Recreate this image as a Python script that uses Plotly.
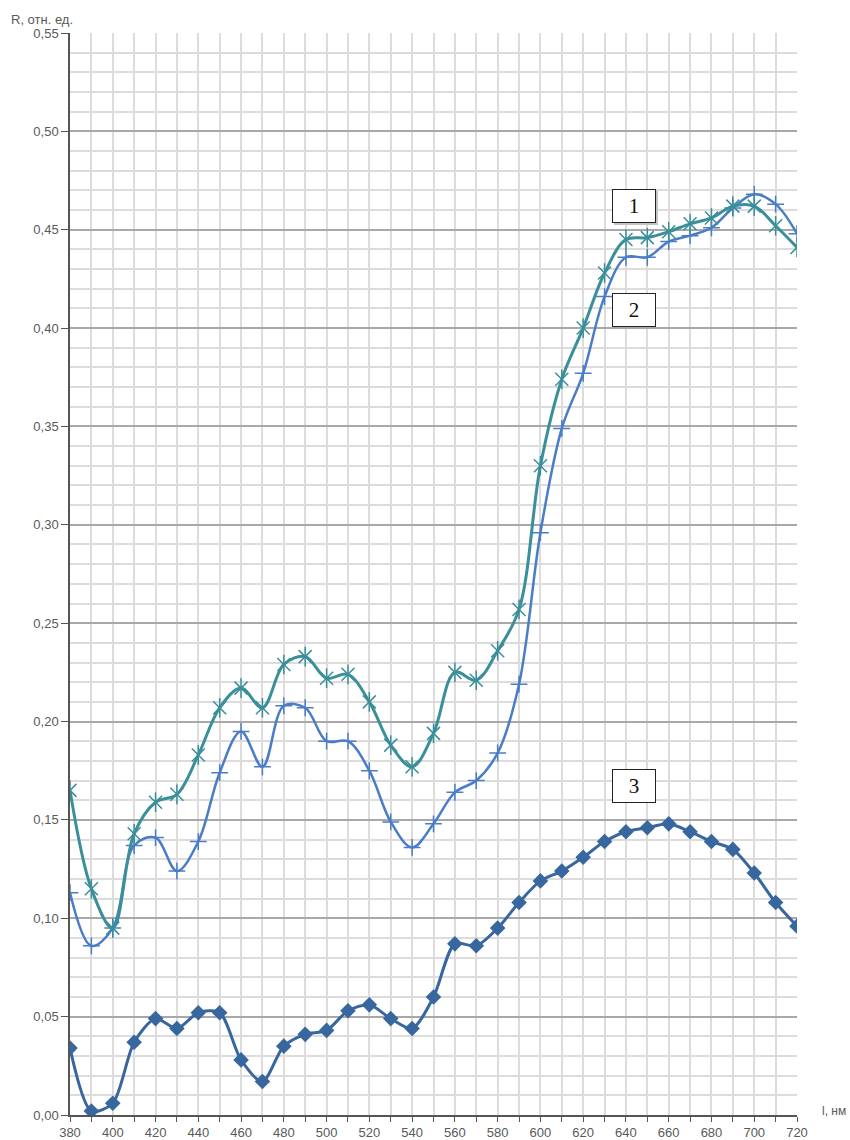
import plotly.graph_objects as go

# Wavelength grid, nm
wavelength = [380, 390, 400, 410, 420, 430, 440, 450, 460, 470, 480, 490, 500, 510,
              520, 530, 540, 550, 560, 570, 580, 590, 600, 610, 620, 630, 640, 650,
              660, 670, 680, 690, 700, 710, 720]

# Reflectance curves, rel. units
curve_1 = [0.165, 0.115, 0.095, 0.143, 0.159, 0.163, 0.183, 0.207, 0.217, 0.207,
           0.229, 0.233, 0.222, 0.224, 0.210, 0.188, 0.177, 0.194, 0.225, 0.221,
           0.236, 0.257, 0.330, 0.374, 0.400, 0.428, 0.445, 0.446, 0.449, 0.453,
           0.456, 0.462, 0.462, 0.452, 0.441]
curve_2 = [0.113, 0.086, 0.095, 0.137, 0.141, 0.124, 0.139, 0.174, 0.195, 0.177,
           0.208, 0.207, 0.190, 0.190, 0.175, 0.149, 0.136, 0.148, 0.164, 0.170,
           0.184, 0.219, 0.296, 0.349, 0.377, 0.416, 0.436, 0.436, 0.444, 0.447,
           0.451, 0.461, 0.468, 0.463, 0.448]
curve_3 = [0.034, 0.002, 0.006, 0.037, 0.049, 0.044, 0.052, 0.052, 0.028, 0.017,
           0.035, 0.041, 0.043, 0.053, 0.056, 0.049, 0.044, 0.060, 0.087, 0.086,
           0.095, 0.108, 0.119, 0.124, 0.131, 0.139, 0.144, 0.146, 0.148, 0.144,
           0.139, 0.135, 0.123, 0.108, 0.096]

x_ticks = [380, 400, 420, 440, 460, 480, 500, 520, 540, 560, 580, 600, 620, 640,
           660, 680, 700, 720]
y_ticks = [0.00, 0.05, 0.10, 0.15, 0.20, 0.25, 0.30, 0.35, 0.40, 0.45, 0.50, 0.55]

TEAL = "#3a8f9a"
BLUE = "#4a7cc7"
DARK = "#3867a0"

fig = go.Figure()

# curve 3 — diamonds
fig.add_trace(go.Scatter(
    x=wavelength, y=curve_3, mode="lines+markers",
    line=dict(color=DARK, width=3, shape="spline", smoothing=0.8),
    marker=dict(symbol="diamond", size=12, color=DARK),
))

# curve 2 — plus markers
fig.add_trace(go.Scatter(
    x=wavelength, y=curve_2, mode="lines+markers",
    line=dict(color=BLUE, width=2.5, shape="spline", smoothing=1.0),
    marker=dict(symbol="cross-thin-open", size=12, color=BLUE,
                line=dict(color=BLUE, width=1.5)),
))

# curve 1 — star markers (x plus vertical bar)
fig.add_trace(go.Scatter(
    x=wavelength, y=curve_1, mode="lines+markers",
    line=dict(color=TEAL, width=3, shape="spline", smoothing=1.0),
    marker=dict(symbol="x-thin-open", size=13, color=TEAL,
                line=dict(color=TEAL, width=1.5)),
))
fig.add_trace(go.Scatter(
    x=wavelength, y=curve_1, mode="markers",
    marker=dict(symbol="line-ns-open", size=14, color=TEAL,
                line=dict(color=TEAL, width=1.5)),
))

# numbered label boxes
L, R, T, B = 70, 53, 33, 25
W, H = 850, 1140
pw, ph = W - L - R, H - T - B


def px_x(p):
    return (p - L) / pw


def px_y(p):
    return (H - B - p) / ph


for text, yv, shadow in [("1", 0.462, True), ("2", 0.409, False), ("3", 0.167, False)]:
    if shadow:
        fig.add_annotation(x=644, y=yv, xref="x", yref="y", text=" ",
                           showarrow=False, width=40, height=30,
                           bgcolor="#c4c4c4", borderwidth=1, bordercolor="#c4c4c4",
                           xshift=2, yshift=-2)
    fig.add_annotation(x=644, y=yv, xref="x", yref="y", text=text, showarrow=False,
                       font=dict(family="Liberation Serif", size=21, color="#111111"),
                       width=40, height=30, bgcolor="white",
                       bordercolor="#222222", borderwidth=1)

# axis titles
fig.add_annotation(x=px_x(9), y=px_y(19), xref="paper", yref="paper",
                   text="R, отн. ед.", showarrow=False, xanchor="left", yanchor="middle",
                   font=dict(family="Liberation Sans", size=13, color="#595959"))
fig.add_annotation(x=px_x(820), y=px_y(1111), xref="paper", yref="paper",
                   text="l, нм", showarrow=False, xanchor="left", yanchor="middle",
                   font=dict(family="Liberation Sans", size=12, color="#595959"))

fig.update_layout(
    width=W, height=H,
    margin=dict(l=L, r=R, t=T, b=B, autoexpand=False),
    paper_bgcolor="white", plot_bgcolor="white",
    showlegend=False,
    separators=", ",
    font=dict(family="Liberation Sans", size=13, color="#595959"),
    xaxis=dict(
        range=[380, 720], tickvals=x_ticks, ticktext=[str(v) for v in x_ticks],
        automargin=False,
        showgrid=True, gridcolor="#dcdcdc", gridwidth=1.5,
        showline=True, linecolor="#555555", linewidth=1.5,
        ticks="outside", ticklen=5, tickcolor="#555555",
        minor=dict(dtick=10, tick0=380, showgrid=True, gridcolor="#dcdcdc",
                   gridwidth=1.5, ticks="outside", ticklen=5, tickcolor="#555555"),
        zeroline=False, tickfont=dict(size=13, color="#595959"),
    ),
    yaxis=dict(
        range=[0, 0.55], tickvals=y_ticks, ticktext=[f"{v:.2f}".replace(".", ",") for v in y_ticks],
        automargin=False,
        showgrid=True, gridcolor="#a8a8a8", gridwidth=2,
        showline=True, linecolor="#555555", linewidth=1.5,
        ticks="outside", ticklen=7, tickcolor="#555555",
        minor=dict(dtick=0.01, tick0=0, showgrid=True, gridcolor="#dcdcdc", gridwidth=1.5),
        zeroline=False, tickfont=dict(size=13, color="#595959"),
    ),
)

fig.write_html("out.html")
